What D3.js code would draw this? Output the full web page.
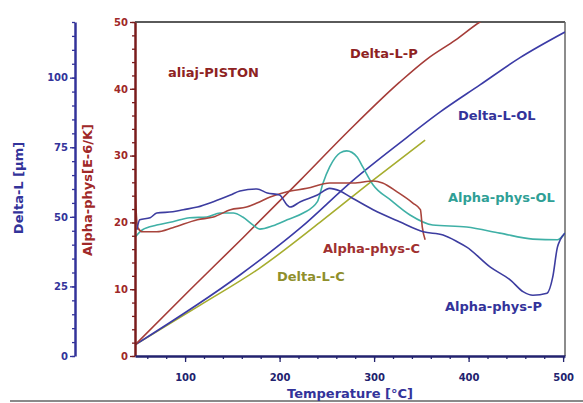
<!DOCTYPE html>
<html lang="en">
<head>
<meta charset="UTF-8">
<title>aliaj-PISTON</title>
<script src="https://cdn.jsdelivr.net/npm/d3@7"></script>
<style>
  body { margin: 0; background: #fff; }
  svg { display: block; font-family: "DejaVu Sans", Verdana, sans-serif; font-weight: bold; }
</style>
</head>
<body>
<svg id="chart" width="583" height="403"></svg>
<script>
// [temperature °C, value] pairs
// Delta-L series (µm, left blue axis)
const deltaLP  = [[47,4.0],[105,23.7],[161,42.4],[222,63.2],[274,81.2],[327,98.4],[356,106.7],[386,113.5],[412,120],[450,126],[502,133]];
const deltaLOL = [[47,4.0],[158,29.1],[222,46.0],[278,63.2],[327,76.5],[370,87.7],[412,97.4],[454,107.1],[502,116.4]];
const deltaLC  = [[47,4.0],[116,18.3],[179,31.6],[243,48.1],[299,63.2],[354,77.6]];

// Alpha-phys series (E-6/K, red axis)
const alphaP  = [[49,18.9],[52,20.4],[63,20.7],[70,21.4],[87,21.6],[98,21.9],[113,22.3],[130,23.1],[148,24.1],[158,24.7],
                 [176,25.0],[187,24.4],[200,24.1],[208,22.6],[211,22.3],[222,23.1],[240,24.1],[253,25.1],[264,24.7],[275,23.8],
                 [299,21.9],[327,20.1],[352,18.6],[373,18.1],[388,17.1],[398,16.3],[423,13.3],[444,11.4],[458,9.6],[468,9.1],
                 [483,9.4],[489,11.8],[494,16.3],[497,17.4],[502,18.4]];
const alphaOL = [[47,17.8],[55,18.9],[70,19.6],[87,20.1],[105,20.7],[123,20.8],[137,21.4],[151,21.4],[161,20.8],[172,19.6],
                 [179,19.0],[193,19.5],[208,20.4],[225,21.4],[240,23.1],[246,25.9],[253,28.3],[264,30.4],[271,30.7],[282,29.8],
                 [288,28.3],[299,25.6],[317,23.4],[338,21.1],[362,19.6],[398,19.3],[433,18.4],[468,17.5],[494,17.4],[502,18.4]];
const alphaC  = [[47,25.8],[48.5,21.0],[50,19.2],[55,18.6],[70,18.6],[87,19.2],[113,20.4],[130,20.8],[148,21.9],[165,22.3],
                 [176,22.9],[190,23.8],[208,24.6],[229,25.1],[253,25.9],[278,25.9],[299,26.2],[309,25.9],[324,24.6],[341,22.9],
                 [349,21.9],[351,19.3],[354,17.4]];

const xTicks = [100, 200, 300, 400, 500];
const deltaTicks = [0, 25, 50, 75, 100];
const alphaTicks = [0, 10, 20, 30, 40, 50];

const navy = "#33339a", darkRed = "#8e2222", teal = "#2f9f96", olive = "#8f8f2c";

const plotL = 135, plotR = 565, plotT = 22, plotB = 356;
const svg = d3.select("#chart");

const x = d3.scaleLinear().domain([47, 502]).range([plotL, plotR]);
const yAlpha = d3.scaleLinear().domain([0, 50]).range([plotB, plotT]);
const yDelta = d3.scaleLinear().domain([0, 120]).range([plotB, plotT]);

svg.append("clipPath").attr("id", "plot")
  .append("rect").attr("x", plotL).attr("y", plotT).attr("width", plotR - plotL).attr("height", plotB - plotT);

// frame lines
svg.append("line").attr("x1", plotL).attr("x2", plotR).attr("y1", plotT).attr("y2", plotT)
  .attr("stroke", "#5a5a5a").attr("stroke-width", 2);
svg.append("line").attr("x1", plotR).attr("x2", plotR).attr("y1", plotT).attr("y2", plotB)
  .attr("stroke", "#666").attr("stroke-width", 1.5);
svg.append("line").attr("x1", 10).attr("x2", 583).attr("y1", 401).attr("y2", 401)
  .attr("stroke", "#8a8a8a").attr("stroke-width", 2);

// curves
const g = svg.append("g").attr("clip-path", "url(#plot)");
function draw(data, yScale, color, curve) {
  const line = d3.line().x(d => x(d[0])).y(d => yScale(d[1])).curve(curve);
  g.append("path").datum(data).attr("d", line)
    .attr("fill", "none").attr("stroke", color).attr("stroke-width", 1.6).attr("stroke-linejoin", "round");
}
draw(deltaLC, yDelta, "#a6ad2e", d3.curveMonotoneX);
draw(deltaLOL, yDelta, "#3b3ba6", d3.curveMonotoneX);
draw(deltaLP, yDelta, "#a53c38", d3.curveMonotoneX);
draw(alphaOL, yAlpha, "#3fb0a6", d3.curveMonotoneX);
draw(alphaC, yAlpha, "#a8443c", d3.curveMonotoneX);
draw(alphaP, yAlpha, "#3d3da0", d3.curveMonotoneX);

// axes
function style(sel, color, width) {
  sel.select(".domain").attr("stroke", color).attr("stroke-width", width);
  sel.selectAll(".tick line").attr("stroke", color).attr("stroke-width", 1.3);
  sel.selectAll(".tick text").attr("fill", color).attr("font-size", 10)
    .attr("font-family", "DejaVu Sans").attr("font-weight", "bold");
}

const dAx = svg.append("g").attr("transform", "translate(75,0)")
  .call(d3.axisLeft(yDelta).tickValues(deltaTicks).tickSize(5).tickSizeOuter(0).tickPadding(2));
style(dAx, navy, 2.5);
const dMinor = svg.append("g").attr("transform", "translate(75,0)")
  .call(d3.axisLeft(yDelta).tickValues(d3.range(0, 121, 5)).tickSize(3).tickFormat(""));
dMinor.select(".domain").remove();
style(dMinor, navy, 0);

const aAx = svg.append("g").attr("transform", `translate(${plotL},0)`)
  .call(d3.axisLeft(yAlpha).tickValues(alphaTicks).tickSize(5).tickSizeOuter(0).tickPadding(2));
style(aAx, "#7a1c1c", 2.5);
const aMinor = svg.append("g").attr("transform", `translate(${plotL},0)`)
  .call(d3.axisLeft(yAlpha).tickValues(d3.range(0, 51, 2)).tickSize(3).tickFormat(""));
aMinor.select(".domain").remove();
style(aMinor, "#7a1c1c", 0);
aAx.selectAll(".tick text").attr("fill", "#a02828");

const xAx = svg.append("g").attr("transform", `translate(0,${plotB})`)
  .call(d3.axisBottom(x).tickValues(xTicks).tickSize(6).tickSizeOuter(0).tickPadding(12));
style(xAx, "#22226e", 2.5);
const xMinor = svg.append("g").attr("transform", `translate(0,${plotB})`)
  .call(d3.axisBottom(x).tickValues(d3.range(60, 501, 20)).tickSize(3).tickFormat(""));
xMinor.select(".domain").remove();
style(xMinor, "#22226e", 0);

// titles
svg.append("text").attr("x", 350).attr("y", 398).attr("text-anchor", "middle")
  .attr("font-size", 13).attr("fill", navy).text("Temperature [°C]");
svg.append("text").attr("transform", "translate(23,188) rotate(-90)").attr("text-anchor", "middle")
  .attr("font-size", 13).attr("fill", navy).text("Delta-L [µm]");
svg.append("text").attr("transform", "translate(92,190) rotate(-90)").attr("text-anchor", "middle")
  .attr("font-size", 13).attr("fill", "#a02828").text("Alpha-phys[E-6/K]");

// annotations
const notes = [
  ["aliaj-PISTON", 168, 77, darkRed],
  ["Delta-L-P", 350, 58, darkRed],
  ["Delta-L-OL", 458, 120, navy],
  ["Alpha-phys-OL", 448, 202, teal],
  ["Alpha-phys-C", 323, 253, "#a03030"],
  ["Delta-L-C", 277, 281, olive],
  ["Alpha-phys-P", 445, 311, navy]
];
svg.selectAll(".note").data(notes).enter().append("text")
  .attr("class", "note")
  .attr("x", d => d[1]).attr("y", d => d[2])
  .attr("font-size", 13).attr("fill", d => d[3])
  .text(d => d[0]);
</script>
</body>
</html>
